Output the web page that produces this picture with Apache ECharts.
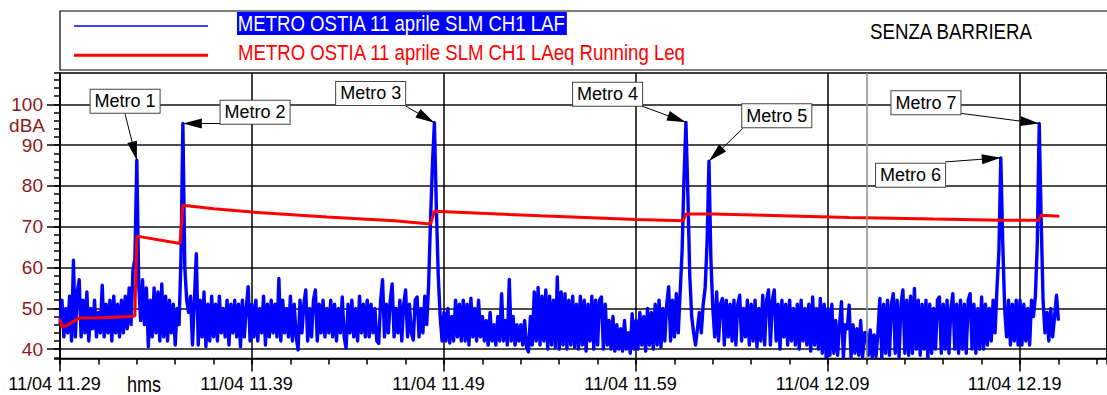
<!DOCTYPE html>
<html>
<head>
<meta charset="utf-8">
<title>METRO OSTIA 11 aprile - SENZA BARRIERA</title>
<script src="https://cdn.jsdelivr.net/npm/echarts@6/dist/echarts.min.js"></script>
<style>
  html, body { margin: 0; padding: 0; background: #fff; }
  #chart { width: 1107px; height: 395px; }
</style>
</head>
<body>
<div id="chart"></div>
<script>
// ---- data -------------------------------------------------------------
// SLM CH1 LAF level, one reading every 6 s (0.1 min) starting at 11:29.
const sampleStepMin = 0.1;
const lafDb = [
  46, 52, 43, 50, 44, 53, 42, 61.8, 43, 54,          // 11:29
  57, 43, 52, 44, 54, 42, 50, 45, 52, 43,            // 11:30
  49, 44, 55.7, 43, 51, 44, 52, 42, 53, 44,
  51, 43, 52, 44, 53, 45, 55, 46, 59.4, 62,
  86.3, 56, 47, 57, 46, 55, 40.6, 52, 43, 55,        // 11:33
  44, 54, 42, 56, 43, 53, 42, 52, 44, 51,
  41, 50, 46, 62, 95.3, 60, 52, 49, 53, 41,          // 11:35
  52, 63.4, 41, 52, 43, 54, 40.6, 51, 42, 53,
  43, 51, 42, 53, 44, 50, 43, 52, 41, 51,
  44, 52, 43, 51, 40.6, 52, 43, 50, 55.3, 42,
  51, 43, 52, 42, 50, 44, 53, 41, 51, 43,            // 11:39
  52, 44, 51, 43, 57.3, 42, 52, 44, 50, 43,
  53, 42, 51, 43, 39.8, 52, 44, 51, 54.5, 42,
  50, 43, 52, 54.5, 42, 51, 44, 52, 43, 50,
  44, 52, 43, 51, 42, 50, 44, 52.8, 43, 40.2,
  51, 44, 52, 43, 50, 42, 53, 44, 51, 43,            // 11:44
  52, 43, 51, 44, 50, 42, 41.4, 52, 57, 43,
  51, 44, 52, 56, 43, 50, 44, 52, 42, 51,
  54.5, 43, 51, 44, 42.2, 52, 52.8, 43, 50, 44,
  53, 46, 56, 72, 85.6, 95.5, 75, 58, 48, 42,        // 11:48
  49, 42, 50, 41.5, 48, 42, 52, 43, 51, 42,          // 11:49
  52, 42, 51, 41, 52.5, 43, 50, 42, 52, 43,
  48, 42, 47, 41, 49, 42, 46, 41, 48, 42,
  53.6, 42, 47, 41, 57.1, 42, 48, 41, 46, 42,
  46, 41, 47, 40.5, 39.3, 48, 41, 54, 42, 55.1,
  41, 53, 42, 54.5, 40, 53, 41, 52, 40.5, 57.7,      // 11:54
  40, 54, 41, 53.6, 40, 52, 41, 53, 40.5, 51,
  40, 53, 41, 52, 39.5, 51, 42, 53, 40, 52,
  41, 52, 52.8, 40, 51, 41, 47, 40, 48, 39.5,
  46, 40, 45, 39.5, 47, 40, 44, 39, 48.7, 40,
  47, 40, 49, 41, 48, 39.5, 50, 41, 49, 40,          // 11:59
  51, 41, 52, 40.5, 50, 42, 51, 55.3, 42, 52,
  43, 53.6, 44, 54, 64, 82, 95.6, 78, 58, 48,        // 12:01
  44, 41, 45, 49, 44, 51, 55, 66, 86.1, 62,          // 12:02
  50, 43, 54, 42, 51, 52.4, 41, 52, 43, 51,
  42, 52, 41, 51, 53.2, 42, 50, 43, 52, 41,
  51, 42, 52, 40.5, 50, 42, 53.2, 41, 52, 54.5,
  41, 52, 54.5, 42, 51, 40, 52, 43, 51, 41,
  52, 42, 50, 41, 51, 40, 52, 42, 50, 41,
  51, 39.5, 52.8, 41, 50, 40, 52.4, 39, 51, 38.1,    // 12:08
  50, 38.5, 51, 39, 47, 38.5, 46, 51.6, 38, 46,
  45, 50.8, 38, 46, 39, 45, 38.5, 47, 38, 44,
  44, 38.5, 44.7, 38, 43.5, 38.2, 44, 52.4, 38, 51,
  39, 52, 38.5, 51, 53.6, 39, 52, 38, 51, 54.5,
  39, 52, 38.5, 53, 39, 54.9, 40, 52, 38.5, 51,      // 12:13
  40, 52, 37.9, 51, 39, 50, 40, 52, 52.8, 39,
  51, 40, 52, 39, 50, 53.6, 40, 51, 39, 52,
  40, 51, 39, 52, 53.6, 40, 51, 39, 50, 40,
  52.8, 40, 51, 41, 50, 42, 52, 44, 55, 64,
  86.9, 66, 50, 43, 52, 41, 51, 42, 52, 41,          // 12:18
  52, 41, 51, 42, 50, 41, 52, 48, 53, 66,
  95.3, 72, 52, 44, 49, 42, 50, 43, 48, 53.2,        // 12:20
  47
];

// SLM CH1 LAeq running Leq: [minutes after 11:29, dB]
const leqPoints = [
  [0, 47.4], [0.1, 45.4], [0.4, 45.9], [0.7, 46.8], [1.0, 47.6], [2.1, 47.7],
  [3.6, 48.0], [3.9, 48.1], [4.0, 67.7], [6.25, 65.9], [6.4, 75.3], [8, 74.4],
  [10, 73.6], [13.9, 72.4], [17.4, 71.5], [19.3, 70.7], [19.5, 73.8], [25, 72.7],
  [30, 71.8], [32.45, 71.5], [32.6, 73.1], [34, 73.1], [41.1, 72.3], [45.5, 71.9],
  [49, 71.6], [50.95, 71.6], [51.1, 72.8], [52.05, 72.6]
];

// train pass-bys: name and time of the LAF maximum (minutes after 11:29)
const trainNames = ['Metro 1', 'Metro 2', 'Metro 3', 'Metro 4', 'Metro 5', 'Metro 6', 'Metro 7'];
const trainPeakMinutes = [4.0, 6.4, 19.5, 32.6, 33.8, 49.0, 51.0];

const xTickLabels = ['11/04 11.29', '11/04 11.39', '11/04 11.49', '11/04 11.59', '11/04 12.09', '11/04 12.19'];
const yTickValues = [40, 50, 60, 70, 80, 90, 100];
const cursorMinute = 42;  // 12:11

const seriesNames = [
  'METRO OSTIA 11 aprile SLM CH1 LAF',
  'METRO OSTIA 11 aprile SLM CH1 LAeq Running Leq'
];

// ---- presentation -----------------------------------------------------
const SANS = "'Liberation Sans',Arial,sans-serif";
const AXIS_RED = '#8b1a1a';
const TIGHT = 0.845;   // horizontal squeeze of the condensed captions

// callout boxes (centre) and arrow tails, in axis units [minutes, dB]
const calloutBox = [[3.39, 100.8], [10.16, 98.1], [16.18, 102.7], [28.52, 102.5], [37.33, 97.2], [44.3, 82.6], [45.1, 100.4]];
const calloutTail = [[3.39, 97.6], [8.33, 95.3], [18.0, 99.6], [30.3, 99.6], [35.56, 94.1], [46.1, 85.9], [46.93, 97.8]];

const lafSeries = lafDb.map((v, i) => [+(i * sampleStepMin).toFixed(1), v]);
const peakDb = t => lafDb[Math.round(t / sampleStepMin)];

function caption(text, x, y, opts) {
  return {
    type: 'text', silent: true, x: x, y: y, scaleX: opts.scaleX || 1,
    style: Object.assign({
      text: text, fill: '#000', font: (opts.size || 22) + 'px ' + SANS,
      align: opts.align || 'left', textAlign: opts.align || 'left',
      verticalAlign: 'middle', textVerticalAlign: 'middle'
    }, opts.style || {})
  };
}

const chart = echarts.init(document.getElementById('chart'), null, { renderer: 'svg' });

const option = {
  animation: false,
  backgroundColor: '#fff',
  grid: {
    left: 60, right: 0, top: 73, bottom: 36.5,
    containLabel: false, outerBoundsMode: 'none',
    show: true, borderColor: '#000', borderWidth: 1.5, backgroundColor: 'transparent'
  },
  xAxis: [
    {
      type: 'value', min: 0, max: 54.53, interval: 10,
      axisLine: { show: true, onZero: false, lineStyle: { color: '#000', width: 1.5 } },
      axisTick: { show: true, length: 13, lineStyle: { color: '#000', width: 1.5 } },
      axisLabel: {
        margin: 16, color: '#000', fontFamily: SANS, fontSize: 18, padding: [0, 11, 0, 0],
        showMaxLabel: false, hideOverlap: false,
        formatter: v => (Math.abs(v % 10) < 1e-6 ? (xTickLabels[Math.round(v / 10)] || '') : '')
      },
      splitLine: { show: true, lineStyle: { color: '#000', width: 1.5 } }
    },
    {
      type: 'value', min: 0, max: 54.53, interval: 2, position: 'bottom', offset: 0,
      axisLine: { show: false },
      axisTick: { show: true, length: 6, lineStyle: { color: '#000', width: 1.5 } },
      axisLabel: { show: false },
      splitLine: { show: false }
    }
  ],
  yAxis: [
    {
      type: 'value', min: 37.7, max: 107.7, splitNumber: 7,
      axisLine: { show: true, onZero: false, lineStyle: { color: '#000', width: 1.5 } },
      axisTick: { show: true, length: 13, customValues: yTickValues, lineStyle: { color: '#000', width: 1.5 } },
      axisLabel: { customValues: yTickValues, margin: 17, color: AXIS_RED, fontFamily: SANS, fontSize: 19 },
      splitLine: { show: true, lineStyle: { color: '#111', width: 1.5 } }
    },
    {
      type: 'value', min: 37.7, max: 107.7, splitNumber: 35, position: 'left', offset: 0,
      axisLine: { show: false },
      axisTick: { show: true, length: 6, lineStyle: { color: '#000', width: 1.5 } },
      axisLabel: { show: false },
      splitLine: { show: false }
    }
  ],
  series: [
    {
      name: seriesNames[0], type: 'line', data: lafSeries,
      xAxisIndex: 0, yAxisIndex: 0,
      showSymbol: false, symbol: 'none', silent: true,
      lineStyle: { color: '#0000ff', width: 3.4, join: 'round' },
      markLine: {
        silent: true, animation: false,
        label: { show: false },
        lineStyle: { color: '#000', width: 1, type: 'solid' },
        emphasis: { disabled: true },
        data: trainPeakMinutes.map((t, i) => [
          { coord: calloutTail[i], symbol: 'none' },
          { coord: [t, peakDb(t)], symbol: 'triangle', symbolSize: [10, 19], symbolOffset: [0, 9.5] }
        ])
      },
      markPoint: {
        silent: true, animation: false,
        symbol: 'rect', symbolSize: 1,
        itemStyle: { color: 'rgba(0,0,0,0)' },
        label: {
          show: true, position: 'inside', formatter: '{b}',
          color: '#000', fontFamily: SANS, fontSize: 18,
          backgroundColor: '#fff', borderColor: '#444', borderWidth: 1, padding: [3, 4, 2, 4]
        },
        data: trainNames.map((n, i) => ({ name: n, coord: calloutBox[i] }))
      }
    },
    {
      name: seriesNames[1], type: 'line', data: leqPoints,
      xAxisIndex: 0, yAxisIndex: 0,
      showSymbol: false, symbol: 'none', silent: true,
      lineStyle: { color: '#ff0000', width: 3 },
      markLine: {
        silent: true, animation: false, symbol: 'none',
        label: { show: false },
        lineStyle: { color: '#8c8c8c', width: 1.5, type: 'solid' },
        data: [{ xAxis: cursorMinute }]
      }
    }
  ],
  graphic: [
    { type: 'rect', silent: true, shape: { x: 60, y: 11, width: 1070, height: 59 }, style: { fill: 'none', stroke: '#000', lineWidth: 1.2 } },
    { type: 'line', silent: true, shape: { x1: 74, y1: 26, x2: 208, y2: 26 }, style: { stroke: '#0000ff', lineWidth: 1.5 } },
    { type: 'line', silent: true, shape: { x1: 74, y1: 55.3, x2: 208, y2: 55.3 }, style: { stroke: '#ff0000', lineWidth: 3 } },
    caption(seriesNames[0], 237, 23.5, { scaleX: TIGHT, style: { fill: '#fff', backgroundColor: '#0000ff', padding: [1, 1, 0, 1] } }),
    caption(seriesNames[1], 238, 52, { scaleX: TIGHT, style: { fill: '#ff0000' } }),
    caption('SENZA BARRIERA', 870, 31, { scaleX: 0.85 }),
    caption('dBA', 45, 125.5, { size: 19, align: 'right', style: { fill: AXIS_RED } }),
    caption('hms', 144, 384, { scaleX: 0.82, align: 'center' })
  ]
};

chart.setOption(option);
</script>
</body>
</html>
